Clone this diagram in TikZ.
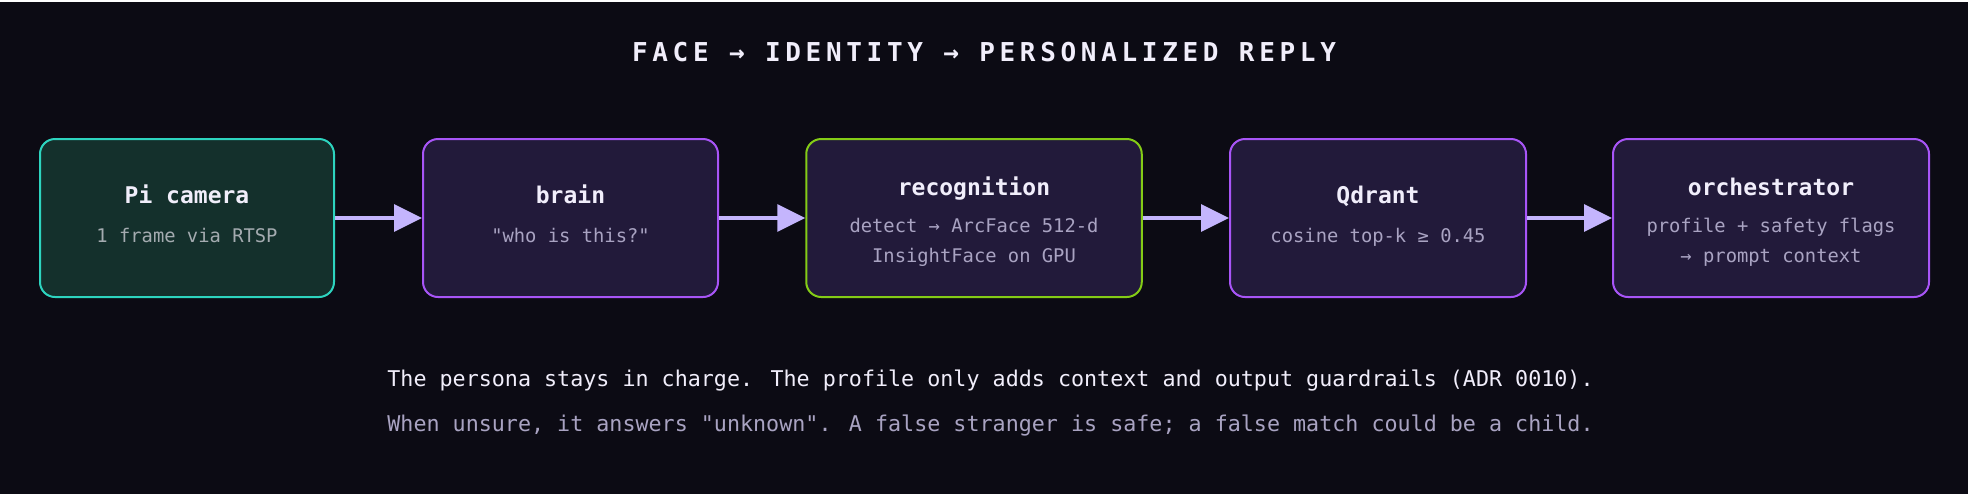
\documentclass[tikz,border=0pt]{standalone}
\usepackage{fontspec}
\setmainfont{DejaVu Sans Mono}[Ligatures=TeXOff]
\newfontfamily\titlefont[LetterSpace=18]{DejaVu Sans Mono}
\usepackage{tikz}
\usetikzlibrary{
  positioning,
  calc,
  arrows.meta
}
\definecolor{bgDark}{HTML}{0C0B14}
\definecolor{camFill}{HTML}{14302C}
\definecolor{camLine}{HTML}{2DD4BF}
\definecolor{boxFill}{HTML}{221A3A}
\definecolor{boxLine}{HTML}{A855F7}
\definecolor{recLine}{HTML}{84CC16}
\definecolor{flowArrow}{HTML}{C4B5FD}
\definecolor{textHead}{HTML}{F1EEFB}
\definecolor{textSub}{HTML}{A9A3C2}
\definecolor{camSub}{HTML}{A4ABB0}
\tikzstyle{stage}=[draw=boxLine, fill=boxFill, line width=1pt, rounded corners=7.5pt, minimum height=79pt, inner sep=0pt]
\tikzstyle{flow}=[-{Triangle[length=14pt, width=13.5pt]}, flowArrow, line width=1.7pt]
\tikzstyle{head}=[anchor=base, inner sep=0pt, textHead, font=\bfseries\fontsize{11.5}{14}\selectfont]
\tikzstyle{sub}=[anchor=base, inner sep=0pt, textSub, font=\fontsize{9.4}{11}\selectfont]
\tikzstyle{note}=[anchor=base west, inner sep=0pt, font=\fontsize{10.85}{13}\selectfont]

\begin{document}
\begin{tikzpicture}[x=0.5pt, y=-0.5pt]
  \def\ymid{218};
  \def\yhead{203};
  \def\ysub{242};
  \def\yheadB{195};
  \def\ysubA{232};
  \def\ysubB{262};

  % 背景
  \fill[bgDark] (0,0) rectangle (1968,494);
  \fill[white] (0,0) rectangle (1968,2);

  % タイトル
  \node (title) at (984,61.7) [anchor=base, inner sep=0pt, textHead]
    {\titlefont\bfseries\fontsize{13}{16}\selectfont FACE → IDENTITY → PERSONALIZED REPLY};

  % 各段の箱
  \node[stage, draw=camLine, fill=camFill, minimum width=147pt] (cam) at (187,\ymid) {};
  \node[stage, minimum width=147.5pt] (brain) at (570.5,\ymid) {};
  \node[stage, draw=recLine, minimum width=167.75pt] (recog) at (974,\ymid) {};
  \node[stage, minimum width=148pt] (qdrant) at (1378,\ymid) {};
  \node[stage, minimum width=158pt] (orch) at (1771,\ymid) {};

  % 箱の中の文字
  \node[head] (camH) at (187,\yhead) {Pi camera};
  \node[sub, camSub] (camS) at (187,\ysub) {1 frame via RTSP};
  \node[head] (brainH) at (570.5,\yhead) {brain};
  \node[sub] (brainS) at (570.5,\ysub) {"who is this?"};
  \node[head] (recogH) at (974,\yheadB) {recognition};
  \node[sub] (recogA) at (974,\ysubA) {detect → ArcFace 512-d};
  \node[sub] (recogB) at (974,\ysubB) {InsightFace on GPU};
  \node[head] (qdrantH) at (1378,\yhead) {Qdrant};
  \node[sub] (qdrantS) at (1378,\ysub) {cosine top-k ≥ 0.45};
  \node[head] (orchH) at (1771,\yheadB) {orchestrator};
  \node[sub] (orchA) at (1771,\ysubA) {profile + safety flags};
  \node[sub] (orchB) at (1771,\ysubB) {→ prompt context};

  % 矢印
  \draw[flow] (cam.east) -- (brain.west);
  \draw[flow] (brain.east) -- (recog.west);
  \draw[flow] (recog.east) -- (qdrant.west);
  \draw[flow] (qdrant.east) -- (orch.west);

  % 下の説明
  \node[note, textHead] (noteA) at (387,386)
    {The persona stays in charge. The profile only adds context and output guardrails (ADR 0010).};
  \node[note, textSub] (noteB) at (387,431)
    {When unsure, it answers "unknown". A false stranger is safe; a false match could be a child.};
\end{tikzpicture}
\end{document}
